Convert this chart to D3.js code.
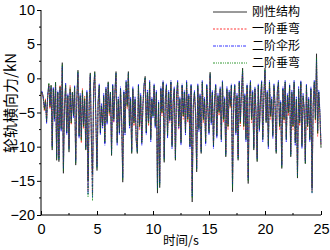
<!DOCTYPE html>
<html>
<head>
<meta charset="utf-8">
<script src="https://cdn.jsdelivr.net/npm/d3@7"></script>
<style>
  body { margin: 0; background: #fff; }
  svg { display: block; }
</style>
</head>
<body>
<svg class="drawSpace" width="330" height="250"></svg>
<script>
// time step of the samples, seconds
const dt = 0.1;

const seriesNames = ['刚性结构', '一阶垂弯', '二阶伞形', '二阶垂弯'];
const xTicks = [0, 5, 10, 15, 20, 25];
const yTicks = [-20, -15, -10, -5, 0, 5, 10];

const rigid = [-2.2,
  -2.0, -2.6, -4.5, -3.2, -6.4, -2.5, -0.8, -4.2, -1.0, -10.5,
  -1.5, -6.0, -0.6, -12.0, -2.0, -12.2, -1.2, -7.5, 2.3, -13.9,
  -4.0, -0.9, -8.0, -2.5, -10.8, -1.5, -6.5, -2.0, -5.5, -1.2,
  -12.7, -3.0, 1.2, -8.5, -2.5, -9.0, -1.8, -7.0, -3.0, -10.5,
  -2.0, -15.0, -4.0, 0.8, -9.0, -14.0, -1.5, 1.0, -6.0, -13.5,
  -3.5, -1.0, -8.0, -4.0, -7.0, -2.5, -9.5, -1.5, -6.5, -0.5,
  -5.0, -2.0, -11.3, -1.0, -6.0, -2.0, 1.0, -9.5, -3.0, -8.0,
  -1.5, -6.0, -15.2, -2.0, -8.0, -0.5, -4.0, 1.0, -7.0, -3.0,
  -11.0, -1.5, -6.5, -3.0, -9.0, -11.0, -1.0, -7.0, -2.5, -9.5,
  -4.0, -1.0, 0.3, -8.0, -2.0, -6.5, -0.5, -9.0, -3.0, -5.5,
  -1.0, -7.0, -2.0, -16.8, -3.5, -16.0, -1.5, -5.0, -0.5, -12.3,
  -3.0, -1.0, -8.5, -2.0, -6.0, -0.5, -10.0, -3.5, -1.5, -12.0,
  -2.5, -0.5, -7.0, -3.0, -9.5, -1.0, -5.5, -2.0, -8.0, -0.5,
  -6.0, -2.5, -10.0, -1.0, -18.1, -4.0, -2.0, -5.0, -13.7, -1.0,
  -7.5, -2.5, -11.0, -0.5, -6.0, -3.0, -9.5, -1.0, -4.5, -8.0,
  0.9, -6.5, -2.0, -10.0, -3.0, -1.0, -8.5, -2.5, -5.0, -1.5,
  -9.0, -0.5, -6.0, -3.0, -11.5, -1.5, -7.0, -2.0, -4.0, -1.0,
  -16.6, -3.5, -1.0, -8.0, -2.5, -12.0, -0.5, -6.5, -2.0, 1.5,
  -7.0, -2.5, -9.0, -1.0, -15.4, -3.0, -0.5, -6.0, -2.0, -10.5,
  -1.5, -5.0, -12.2, -1.0, -7.5, -3.0, -0.5, -9.0, -2.5, 1.5,
  -6.5, -2.0, -10.0, -0.5, -5.5, -3.0, -8.5, -1.0, -4.0, -11.0,
  -2.0, -0.5, -7.0, -3.5, -13.2, -1.5, -6.0, -0.5, -9.0, -2.5,
  -5.0, -1.0, -11.5, -2.0, -7.0, -0.5, -9.5, -3.0, -14.6, -1.5,
  -6.5, -0.5, -10.0, -2.5, -4.5, -12.5, -1.0, -7.0, -3.0, -9.0,
  -1.5, -16.0, -4.0, -0.5, -6.0, 3.6, -8.0, -2.0, -5.0, -10.2];

const bend1 = [-2.4,
  -2.2, -2.9, -4.8, -3.0, -6.0, -2.8, -1.0, -4.5, -1.4, -9.8,
  -1.8, -5.5, -0.9, -11.2, -2.3, -11.5, -1.0, -7.0, 1.5, -12.8,
  -3.6, -1.2, -7.4, -2.8, -10.0, -1.0, -6.8, -2.4, -5.0, -1.5,
  -11.8, -3.4, 0.6, -8.0, -2.8, -9.5, -1.5, -7.4, -2.6, -10.0,
  -2.4, -16.5, -4.5, 0.3, -9.5, -17.0, -1.8, 0.5, -6.5, -12.5,
  -3.8, -1.4, -7.5, -4.5, -6.5, -3.0, -9.0, -1.8, -6.0, -1.0,
  -5.5, -2.4, -10.5, -1.4, -6.5, -2.5, 0.4, -9.0, -3.4, -7.5,
  -1.8, -6.5, -14.0, -2.4, -7.5, -1.0, -4.5, 0.5, -6.5, -3.4,
  -10.4, -1.8, -7.0, -3.4, -8.5, -10.2, -1.4, -7.5, -2.8, -9.0,
  -4.4, -1.4, -0.2, -7.5, -2.4, -7.0, -0.9, -8.5, -3.4, -5.0,
  -1.4, -6.5, -2.4, -15.5, -3.8, -14.8, -1.8, -5.5, -0.9, -11.5,
  -3.4, -1.4, -8.0, -2.4, -6.5, -0.9, -9.5, -3.8, -1.8, -11.2,
  -2.8, -0.9, -7.5, -3.4, -9.0, -1.4, -6.0, -2.4, -7.5, -1.0,
  -6.5, -2.8, -9.5, -1.4, -16.5, -4.4, -2.4, -5.5, -12.8, -1.4,
  -7.0, -2.8, -10.4, -0.9, -6.5, -3.4, -9.0, -1.4, -5.0, -7.5,
  0.4, -6.0, -2.4, -9.5, -3.4, -1.4, -8.0, -2.8, -5.5, -1.8,
  -8.5, -0.9, -6.5, -3.4, -10.8, -1.8, -7.5, -2.4, -4.4, -1.4,
  -15.2, -3.8, -1.4, -7.5, -2.8, -11.2, -0.9, -7.0, -2.4, 0.9,
  -7.5, -2.8, -8.5, -1.4, -14.5, -3.4, -0.9, -6.5, -2.4, -10.0,
  -1.8, -5.5, -11.5, -1.4, -7.0, -3.4, -0.9, -8.5, -2.8, 0.9,
  -6.0, -2.4, -9.5, -0.9, -6.0, -3.4, -8.0, -1.4, -4.4, -10.4,
  -2.4, -0.9, -7.5, -3.8, -12.5, -1.8, -6.5, -0.9, -8.5, -2.8,
  -5.5, -1.4, -10.8, -2.4, -7.5, -0.9, -9.0, -3.4, -13.8, -1.8,
  -7.0, -0.9, -9.5, -2.8, -5.0, -12.0, -1.4, -7.5, -3.4, -8.5,
  -1.8, -16.5, -4.4, -0.9, -6.5, 2.5, -8.5, -2.4, -5.5, -9.8];

const umbrella2 = [-2.0,
  -1.9, -3.0, -4.2, -3.5, -6.6, -2.2, -1.1, -3.9, -1.3, -10.0,
  -1.3, -6.3, -0.8, -11.5, -1.8, -11.8, -1.5, -7.8, 1.8, -13.2,
  -4.3, -0.7, -8.3, -2.2, -10.3, -1.8, -6.2, -2.2, -5.8, -1.0,
  -12.2, -2.7, 0.9, -8.8, -2.2, -8.6, -2.1, -6.7, -3.3, -10.2,
  -1.7, -17.0, -3.7, 0.5, -8.7, -17.4, -1.2, 0.7, -6.3, -13.0,
  -3.2, -0.8, -8.3, -3.7, -7.3, -2.2, -9.8, -1.2, -6.8, -0.7,
  -4.7, -2.2, -11.0, -0.8, -6.3, -1.7, 0.7, -9.8, -2.7, -8.3,
  -1.2, -6.3, -14.6, -1.7, -8.3, -0.3, -3.7, 0.7, -7.3, -2.7,
  -10.7, -1.2, -6.2, -2.7, -9.3, -10.7, -0.8, -6.7, -2.2, -9.8,
  -3.7, -0.8, 0.0, -8.3, -1.7, -6.2, -0.3, -9.3, -2.7, -5.8,
  -0.8, -7.3, -1.7, -16.0, -3.2, -15.4, -1.2, -4.7, -0.3, -11.8,
  -2.7, -0.8, -8.8, -1.7, -6.3, -0.3, -10.3, -3.2, -1.2, -11.6,
  -2.2, -0.3, -7.3, -2.7, -9.8, -0.8, -5.2, -1.7, -8.3, -0.3,
  -5.7, -2.2, -10.3, -0.8, -17.2, -3.7, -1.7, -4.7, -13.2, -0.8,
  -7.8, -2.2, -10.7, -0.3, -5.7, -2.7, -9.8, -0.8, -4.2, -8.3,
  0.6, -6.8, -1.7, -10.3, -2.7, -0.8, -8.8, -2.2, -4.7, -1.2,
  -9.3, -0.3, -5.7, -2.7, -11.2, -1.2, -6.7, -1.7, -3.7, -0.8,
  -15.8, -3.2, -0.8, -8.3, -2.2, -11.6, -0.3, -6.2, -1.7, 1.1,
  -6.7, -2.2, -9.3, -0.8, -14.8, -2.7, -0.3, -5.7, -1.7, -10.2,
  -1.2, -4.7, -11.8, -0.8, -7.8, -2.7, -0.3, -9.3, -2.2, 1.1,
  -6.2, -1.7, -10.3, -0.3, -5.2, -2.7, -8.8, -0.8, -3.7, -10.7,
  -1.7, -0.3, -6.7, -3.2, -12.8, -1.2, -5.7, -0.3, -9.3, -2.2,
  -4.7, -0.8, -11.2, -1.7, -6.7, -0.3, -9.8, -2.7, -14.2, -1.2,
  -6.2, -0.3, -10.3, -2.2, -4.2, -12.2, -0.8, -6.7, -2.7, -9.3,
  -1.2, -16.8, -3.7, -0.3, -5.7, 2.8, -7.7, -1.7, -4.7, -9.6];

const bend2 = [-2.1,
  -2.3, -2.7, -4.6, -3.3, -6.2, -2.6, -0.7, -4.0, -1.1, -10.2,
  -1.6, -5.8, -0.5, -11.7, -2.1, -12.0, -1.3, -7.3, 2.0, -13.5,
  -3.9, -1.0, -7.8, -2.6, -10.5, -1.3, -6.6, -2.1, -5.3, -1.3,
  -12.4, -3.1, 1.0, -8.3, -2.6, -9.2, -1.7, -7.1, -2.8, -10.4,
  -2.1, -17.4, -4.2, 0.6, -9.2, -17.9, -1.6, 0.9, -6.1, -13.2,
  -3.6, -1.1, -7.8, -4.2, -6.8, -2.7, -9.3, -1.6, -6.3, -0.6,
  -5.2, -2.1, -11.1, -1.1, -6.1, -2.1, 0.8, -9.3, -3.1, -7.8,
  -1.6, -6.1, -14.8, -2.1, -7.8, -0.6, -4.2, 0.8, -6.8, -3.1,
  -10.8, -1.6, -6.6, -3.1, -8.8, -10.8, -1.1, -7.1, -2.6, -9.3,
  -4.1, -1.1, 0.1, -7.8, -2.1, -6.6, -0.6, -8.8, -3.1, -5.6,
  -1.1, -6.8, -2.1, -16.3, -3.6, -15.6, -1.6, -5.1, -0.6, -12.0,
  -3.1, -1.1, -8.3, -2.1, -6.1, -0.6, -9.8, -3.6, -1.6, -11.8,
  -2.6, -0.6, -7.1, -3.1, -9.3, -1.1, -5.6, -2.1, -7.8, -0.6,
  -6.1, -2.6, -9.8, -1.1, -17.5, -4.1, -2.1, -5.1, -13.3, -1.1,
  -7.3, -2.6, -10.8, -0.6, -6.1, -3.1, -9.3, -1.1, -4.6, -7.8,
  0.7, -6.3, -2.1, -9.8, -3.1, -1.1, -8.3, -2.6, -5.1, -1.6,
  -8.8, -0.6, -6.1, -3.1, -11.3, -1.6, -7.1, -2.1, -4.1, -1.1,
  -16.1, -3.6, -1.1, -7.8, -2.6, -11.8, -0.6, -6.6, -2.1, 1.3,
  -7.1, -2.6, -8.8, -1.1, -15.0, -3.1, -0.6, -6.1, -2.1, -10.3,
  -1.6, -5.1, -12.0, -1.1, -7.3, -3.1, -0.6, -8.8, -2.6, 1.3,
  -6.3, -2.1, -9.8, -0.6, -5.6, -3.1, -8.3, -1.1, -4.1, -10.8,
  -2.1, -0.6, -7.1, -3.6, -13.0, -1.6, -6.1, -0.6, -8.8, -2.6,
  -5.1, -1.1, -11.3, -2.1, -7.1, -0.6, -9.3, -3.1, -14.4, -1.6,
  -6.6, -0.6, -9.8, -2.6, -4.6, -12.4, -1.1, -7.1, -3.1, -8.8,
  -1.6, -16.8, -4.1, -0.6, -6.1, 3.0, -8.1, -2.1, -5.1, -10.0];

const drawChart = () => {
  const svg = d3.select('.drawSpace');
  const left = 41, right = 321, top = 10, bottom = 215;

  const x = d3.scaleLinear().domain([0, 25]).range([left, right]);
  const y = d3.scaleLinear().domain([-20, 10]).range([bottom, top]);

  const series = [
    { name: seriesNames[0], values: rigid, color: '#000', dash: null },
    { name: seriesNames[1], values: bend1, color: '#ff0000', dash: '2,1.5' },
    { name: seriesNames[2], values: umbrella2, color: '#0000ff', dash: '3,1,1,1' },
    { name: seriesNames[3], values: bend2, color: '#008000', dash: '2,1,1,1,1,1' }
  ];

  const line = d3.line()
    .x((d, i) => x(i * dt))
    .y((d) => y(d));

  svg.selectAll('path.series')
    .data(series)
    .enter()
    .append('path')
    .attr('class', 'series')
    .attr('d', (d) => line(d.values))
    .attr('fill', 'none')
    .attr('stroke', (d) => d.color)
    .attr('stroke-width', 0.7)
    .attr('stroke-opacity', 0.85)
    .attr('stroke-dasharray', (d) => d.dash);

  // axes: x ticks point inward, y ticks point outward
  const xAxis = svg.append('g').attr('transform', 'translate(0,' + bottom + ')');
  xAxis.call(d3.axisBottom(x).tickValues(xTicks).tickSize(-4).tickPadding(9).tickFormat(d3.format('d')));
  svg.append('g')
    .selectAll('line')
    .data(d3.range(2.5, 25, 5))
    .enter()
    .append('line')
    .attr('x1', (d) => x(d)).attr('x2', (d) => x(d))
    .attr('y1', bottom).attr('y2', bottom - 2)
    .attr('stroke', '#000');

  const yAxis = svg.append('g').attr('transform', 'translate(' + left + ',0)');
  yAxis.call(d3.axisLeft(y).tickValues(yTicks).tickSize(4).tickPadding(2).tickFormat(d3.format('d')));
  svg.append('g')
    .selectAll('line')
    .data(d3.range(-17.5, 10, 5))
    .enter()
    .append('line')
    .attr('x1', left).attr('x2', left - 2)
    .attr('y1', (d) => y(d)).attr('y2', (d) => y(d))
    .attr('stroke', '#000');

  svg.selectAll('.domain').remove();
  xAxis.append('line').attr('x1', left).attr('x2', right).attr('y1', 0).attr('y2', 0).attr('stroke', '#000');
  yAxis.append('line').attr('x1', 0).attr('x2', 0).attr('y1', top).attr('y2', bottom).attr('stroke', '#000');

  svg.selectAll('.tick text')
    .attr('fill', '#000')
    .style('font-family', 'Liberation Sans, Arial, sans-serif')
    .style('font-size', '14.5px');

  svg.append('text')
    .attr('x', 181)
    .attr('y', 245)
    .attr('text-anchor', 'middle')
    .style('font-family', 'Noto Sans CJK SC')
    .style('font-size', '12.5px')
    .text('时间/s');

  svg.append('text')
    .attr('transform', 'translate(16,103) rotate(-90)')
    .attr('text-anchor', 'middle')
    .style('font-family', 'Noto Sans CJK SC')
    .style('font-size', '15px')
    .text('轮轨横向力/kN');

  const legend = svg.selectAll('.legend')
    .data(series)
    .enter()
    .append('g')
    .attr('class', 'legend')
    .attr('transform', (d, i) => 'translate(213,' + (12 + i * 17) + ')');
  legend.append('line')
    .attr('x1', 0).attr('x2', 34)
    .attr('stroke', (d) => d.color)
    .attr('stroke-width', 0.8)
    .attr('stroke-dasharray', (d) => d.dash);
  legend.append('text')
    .attr('x', 39)
    .attr('y', 4.3)
    .style('font-family', 'Noto Sans CJK SC')
    .style('font-size', '12px')
    .text((d) => d.name);
};

drawChart();
</script>
</body>
</html>
